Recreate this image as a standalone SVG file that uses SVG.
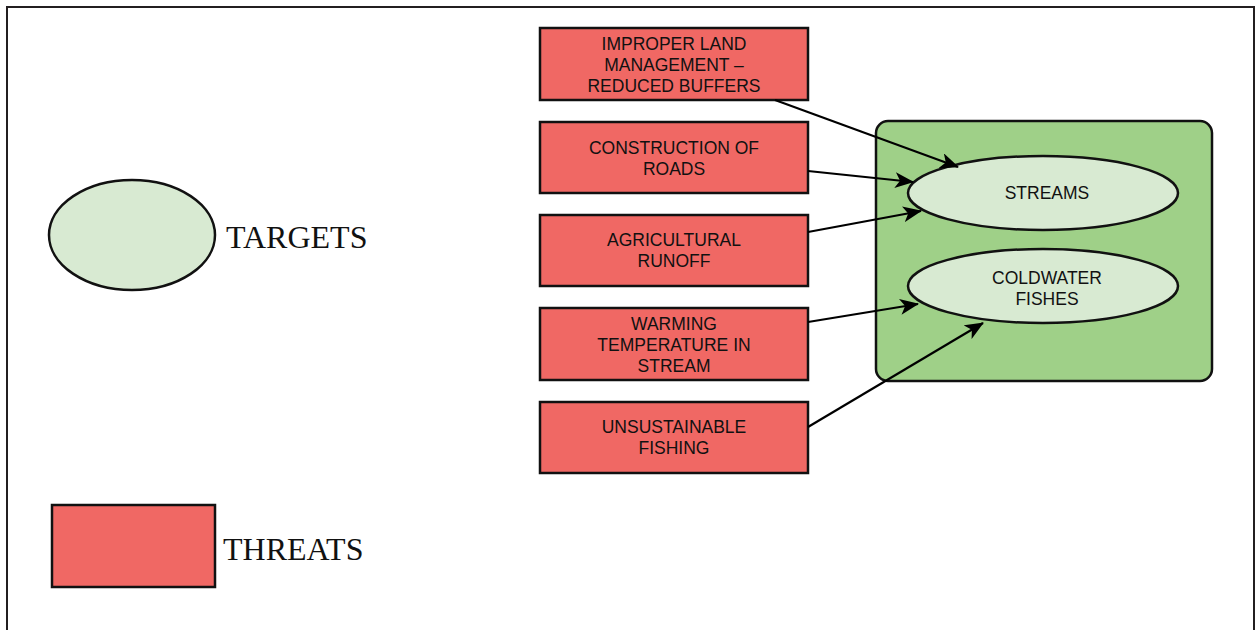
<svg xmlns="http://www.w3.org/2000/svg" width="1255" height="630" viewBox="0 0 1255 630">
<style>
.threat{fill:#f06864;stroke:#111;stroke-width:2.5}
.target{fill:#d8ead2;stroke:#111;stroke-width:2.5}
.lbl{font-family:"Liberation Sans",Arial,sans-serif;font-size:17.5px;fill:#111;text-anchor:middle}
.leg{font-family:"Liberation Serif",serif;font-size:32px;fill:#111}
.conn{stroke:#000;stroke-width:2.2;fill:none;marker-end:url(#ah)}
</style>
<defs>
<marker id="ah" markerWidth="19" markerHeight="16" refX="18" refY="8" orient="auto" markerUnits="userSpaceOnUse">
<path d="M0,0 L19,8 L0,16 L5,8 Z" fill="#000"/>
</marker>
</defs>
<rect x="0" y="0" width="1255" height="630" fill="#fff"/>
<rect x="7" y="7" width="1247" height="640" fill="none" stroke="#231f20" stroke-width="2"/>
<g id="legend-targets">
<ellipse class="target" cx="132" cy="235" rx="83" ry="55"/>
<text class="leg" x="226" y="248">TARGETS</text>
</g>
<g id="legend-threats">
<rect class="threat" x="52" y="505" width="163" height="82"/>
<text class="leg" x="223" y="560">THREATS</text>
</g>
<g id="container">
<rect x="876" y="121" width="336" height="260" rx="12" fill="#9fd088" stroke="#111" stroke-width="2.5"/>
</g>
<g id="streams">
<ellipse class="target" cx="1043" cy="193" rx="135" ry="37"/>
<text class="lbl" x="1047" y="199">STREAMS</text>
</g>
<g id="coldwater">
<ellipse class="target" cx="1043" cy="286" rx="135" ry="37"/>
<text class="lbl" x="1047" y="284">COLDWATER</text>
<text class="lbl" x="1047" y="305">FISHES</text>
</g>
<g id="t1">
<rect class="threat" x="540" y="28" width="268" height="72"/>
<text class="lbl" x="674" y="50">IMPROPER LAND</text>
<text class="lbl" x="674" y="71">MANAGEMENT –</text>
<text class="lbl" x="674" y="92">REDUCED BUFFERS</text>
</g>
<g id="t2">
<rect class="threat" x="540" y="122" width="268" height="71"/>
<text class="lbl" x="674" y="154">CONSTRUCTION OF</text>
<text class="lbl" x="674" y="175">ROADS</text>
</g>
<g id="t3">
<rect class="threat" x="540" y="215" width="268" height="71"/>
<text class="lbl" x="674" y="246">AGRICULTURAL</text>
<text class="lbl" x="674" y="267">RUNOFF</text>
</g>
<g id="t4">
<rect class="threat" x="540" y="308" width="268" height="72"/>
<text class="lbl" x="674" y="330">WARMING</text>
<text class="lbl" x="674" y="351">TEMPERATURE IN</text>
<text class="lbl" x="674" y="372">STREAM</text>
</g>
<g id="t5">
<rect class="threat" x="540" y="402" width="268" height="71"/>
<text class="lbl" x="674" y="433">UNSUSTAINABLE</text>
<text class="lbl" x="674" y="454">FISHING</text>
</g>
<g id="connectors">
<line class="conn" x1="775" y1="100" x2="958" y2="167"/>
<line class="conn" x1="808" y1="171" x2="913" y2="182"/>
<line class="conn" x1="808" y1="232" x2="921" y2="211"/>
<line class="conn" x1="808" y1="322" x2="918" y2="304"/>
<line class="conn" x1="808" y1="427" x2="983" y2="323"/>
</g>
</svg>
